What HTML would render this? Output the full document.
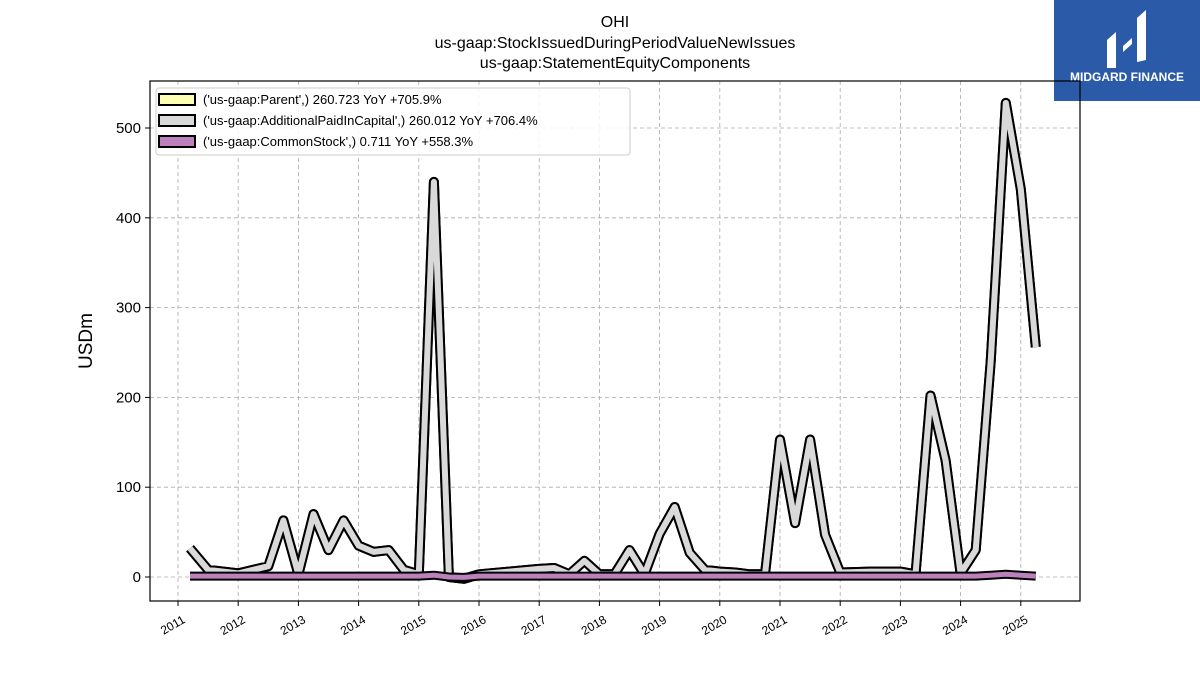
<!DOCTYPE html>
<html><head><meta charset="utf-8"><style>
body{margin:0;background:#fff;font-family:"Liberation Sans","DejaVu Sans",sans-serif}
</style></head><body>
<svg width="1200" height="675" xmlns="http://www.w3.org/2000/svg" font-family="Liberation Sans, DejaVu Sans, sans-serif">
<rect width="1200" height="675" fill="#fff"/>
<text x="615" y="27" text-anchor="middle" font-size="16">OHI</text>
<text x="615" y="48" text-anchor="middle" font-size="16">us-gaap:StockIssuedDuringPeriodValueNewIssues</text>
<text x="615" y="68" text-anchor="middle" font-size="16">us-gaap:StatementEquityComponents</text>
<g>
<rect x="1054" y="0" width="146" height="101" fill="#2a5aa8"/>
<path d="M1107 68 V40 L1116 32 V68 Z M1123 46 L1132 38 V44 L1123 52 Z M1137 62 V18 L1146 10 V60 Z" fill="#fff"/>
<text x="1127" y="81" text-anchor="middle" font-size="12" font-weight="bold" fill="#fff">MIDGARD FINANCE</text>
</g>
<g id="grid"></g>
<g id="series"></g>
<rect x="150" y="81" width="930" height="520" fill="none" stroke="#000" stroke-width="1.2"/>
<g id="axes"></g>
<text x="92" y="341" font-size="19" text-anchor="middle" transform="rotate(-90 92 341)">USDm</text>
<g>
<rect x="156" y="88" width="474" height="67" rx="3" fill="#fff" fill-opacity="0.85" stroke="#ccc"/>
<g><rect x="159" y="94" width="36" height="11" fill="#ffffb3" stroke="#000" stroke-width="2"/><text x="203" y="104" font-size="13">('us-gaap:Parent',) 260.723 YoY +705.9%</text></g>
<g><rect x="159" y="115" width="36" height="11" fill="#d9d9d9" stroke="#000" stroke-width="2"/><text x="203" y="125" font-size="13">('us-gaap:AdditionalPaidInCapital',) 260.012 YoY +706.4%</text></g>
<g><rect x="159" y="136" width="36" height="11" fill="#bc80bd" stroke="#000" stroke-width="2"/><text x="203" y="146" font-size="13">('us-gaap:CommonStock',) 0.711 YoY +558.3%</text></g>
</g>
<script>
const dates=[2011.2,2011.5,2012.0,2012.5,2012.75,2013.0,2013.25,2013.5,2013.75,2014.0,2014.25,2014.5,2014.75,2015.0,2015.25,2015.5,2015.75,2016.0,2016.5,2017.0,2017.25,2017.5,2017.75,2018.0,2018.25,2018.5,2018.75,2019.0,2019.25,2019.5,2019.75,2020.0,2020.25,2020.5,2020.75,2021.0,2021.25,2021.5,2021.75,2022.0,2022.5,2023.0,2023.25,2023.5,2023.75,2024.0,2024.25,2024.5,2024.75,2025.0,2025.25];
const apic=[32,8,4,12,63,3,70,30,63,35,28,30,8,3,440,0,-2,3,6,9,10,3,18,3,3,30,3,48,78,27,8,6,5,3,3,153,60,153,47,5,6,6,3,202,130,4,30,240,528,432,256];
const parent=[32,8,4,12,63,3,70,30,63,35,28,30,8,3,440,0,-2,3,6,9,10,3,18,3,3,30,3,48,78,27,8,6,5,3,3,153,60,153,47,5,6,6,3,202,130,4,30,240,528,432,256];
const common=[1,1,1,1,1,1,1,1,1,1,1,1,1,1,2,0,-0.5,1,1,1,1,1,1,1,1,1,1,1,1,1,1,1,1,1,1,1,1,1,1,1,1,1,1,1,1,1,1,2,3,2,1];
const yTicks=[0,100,200,300,400,500];
const xTicks=[2011,2012,2013,2014,2015,2016,2017,2018,2019,2020,2021,2022,2023,2024,2025];
const NS="http://www.w3.org/2000/svg";
function X(d){return 178+(d-2011)*60.2;}
function Y(v){return 577-v*0.898;}
const grid=document.getElementById('grid'),axes=document.getElementById('axes'),ser=document.getElementById('series');
function mk(tag,attrs,parent){const e=document.createElementNS(NS,tag);for(const k in attrs)e.setAttribute(k,attrs[k]);parent.appendChild(e);return e;}
yTicks.forEach(t=>{
 const g=mk('line',{x1:150,x2:1080,y1:Y(t),y2:Y(t),stroke:'#aaa','stroke-dasharray':'4,3','stroke-width':0.8},grid);
 
 
 mk('line',{x1:145,x2:150,y1:Y(t),y2:Y(t),stroke:'#000'},axes);
 const tx=mk('text',{x:141,y:Y(t)+5,'text-anchor':'end','font-size':15},axes);tx.textContent=t;
 
 
});
xTicks.forEach(t=>{
 const g=mk('line',{x1:X(t),x2:X(t),y1:81,y2:601,stroke:'#aaa','stroke-dasharray':'4,3','stroke-width':0.8},grid);
 
 
 mk('line',{x1:X(t),x2:X(t),y1:601,y2:606,stroke:'#000'},axes);
 const tx=mk('text',{x:X(t)+8,y:622,'text-anchor':'end','font-size':12,transform:`rotate(-30 ${X(t)+8} 622)`},axes);tx.textContent=t;
 
 
});
function pts(vals){return vals.map((v,i)=>X(dates[i]).toFixed(1)+','+Y(v).toFixed(1)).join(' ');}
function draw(vals,color,w,name){
 const g=mk('g',{},ser);
 
 
 mk('polyline',{points:pts(vals),fill:'none',stroke:'#000','stroke-width':w+4,'stroke-linejoin':'round','stroke-linecap':'butt'},g);
 mk('polyline',{points:pts(vals),fill:'none',stroke:color,'stroke-width':w,'stroke-linejoin':'round','stroke-linecap':'butt'},g);
}
draw(parent,'#ffffb3',6,'line-parent');
draw(apic,'#d9d9d9',6,'line-additional-paid-in-capital');
draw(common,'#bc80bd',5,'line-common-stock');
</script>
</svg>
</body></html>
